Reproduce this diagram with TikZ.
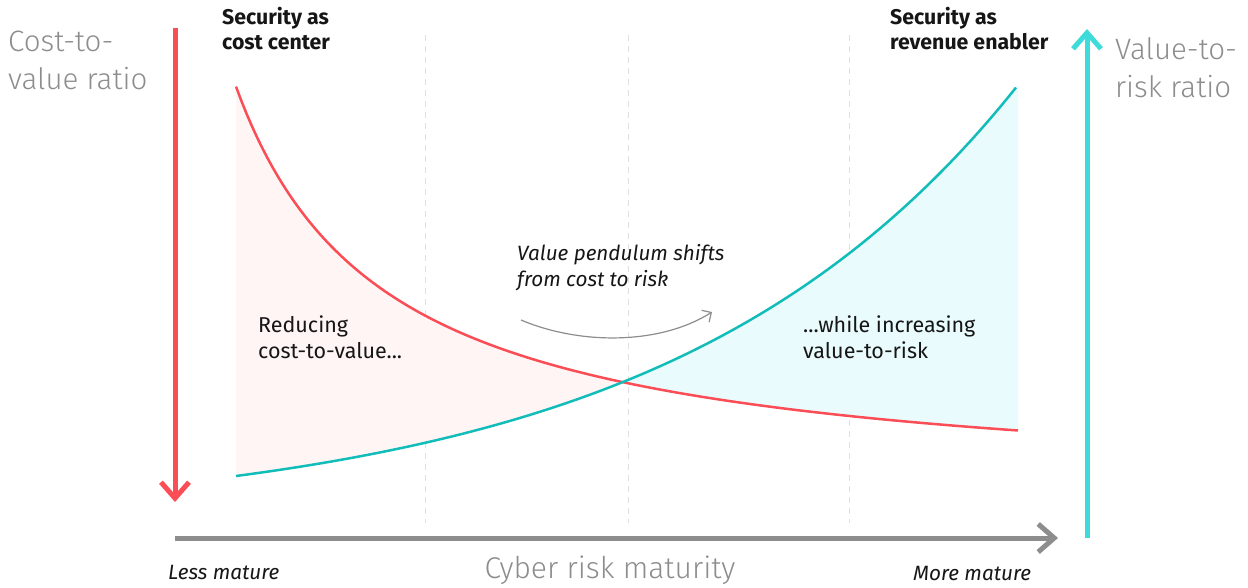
\documentclass[tikz,border=0pt]{standalone}
\usepackage{fontspec}
\setmainfont{Fira Sans}
\newfontfamily\lightfont{Fira Sans Light}
\usetikzlibrary{arrows.meta}
\definecolor{cred}{HTML}{FA4D56}
\definecolor{cteal}{HTML}{3DDBD9}
\definecolor{ctealcurve}{HTML}{12BDB9}
\definecolor{cpink}{HTML}{FFF5F5}
\definecolor{ctealfill}{HTML}{E9FBFC}
\definecolor{caxis}{HTML}{8D8D8D}
\definecolor{cdash}{HTML}{E0E0E0}
\definecolor{ctext}{HTML}{161616}
\tikzset{
  bigarrow/.style={line width=5pt, -{Straight Barb[length=16pt,width=28pt]}},
  axislabel/.style={font=\lightfont\fontsize{29.5}{38}\selectfont, text=caxis, align=left, inner sep=0pt, anchor=north west},
  headlabel/.style={font=\bfseries\fontsize{21.3}{25}\selectfont, text=ctext, align=left, inner sep=0pt, anchor=north west},
  notelabel/.style={font=\fontsize{21.5}{26}\selectfont, text=ctext, align=left, inner sep=0pt, anchor=north west},
  itlabel/.style={font=\itshape\fontsize{20.7}{26}\selectfont, text=ctext, align=left, inner sep=0pt, anchor=north west},
  gridline/.style={cdash, line width=1pt, dash pattern=on 6pt off 5pt},
  curve/.style={line width=2.5pt},
}
\begin{document}
\begin{tikzpicture}[x=1pt,y=-1pt]
\useasboundingbox (0,0) rectangle (1248,587);
% grid lines
\foreach \gx [count=\i] in {425,628,849}{
  \coordinate (gt\i) at (\gx,35);
  \coordinate (gb\i) at (\gx,523);
  \draw[gridline] (gt\i) -- (gb\i);
}
% fills
\fill[cpink] plot[domain=236:622,samples=80] (\x,{496-610/((\x-87)/100)}) -- plot[domain=622:236,samples=80] (\x,{521.8-45.8*exp(0.002887*(\x-236))}) -- cycle;
\fill[ctealfill] plot[domain=622:1018,samples=80] (\x,{521.8-45.8*exp(0.002887*(\x-236))}) -- plot[domain=1018:622,samples=80] (\x,{496-610/((\x-87)/100)}) -- cycle;
% curves
\draw[curve,cred] plot[domain=236:1018,samples=150] (\x,{496-610/((\x-87)/100)});
\draw[curve,ctealcurve] plot[domain=236:1016,samples=150] (\x,{521.8-45.8*exp(0.002887*(\x-236))});
% axes
\coordinate (rtop) at (175,28);
\coordinate (rbot) at (175,502);
\draw[bigarrow,cred] (rtop) -- (rbot);
\coordinate (tbot) at (1087,538);
\coordinate (ttop) at (1087,29);
\draw[bigarrow,cteal] (tbot) -- (ttop);
\coordinate (xl) at (175,538);
\coordinate (xr) at (1058,538);
\draw[bigarrow,caxis] (xl) -- (xr);
% pendulum arrow
\coordinate (pa) at (521,320);
\coordinate (pb) at (712,312);
\draw[caxis, line width=1.2pt, -{Straight Barb[length=7pt,width=14pt]}] (pa) .. controls (580,345) and (660,345) .. (pb);
% labels
\node[axislabel] (lcost) at (8,31) {Cost-to-\\value ratio};
\node[axislabel] (lvalue) at (1115,37) {Value-to-\\risk ratio};
\node[headlabel] (hcost) at (222,7) {Security as\\cost center};
\node[headlabel] (hrev) at (890,7) {Security as\\revenue enabler};
\node[itlabel] (pend) at (517,244) {Value pendulum shifts\\from cost to risk};
\node[notelabel] (reduce) at (258,316) {Reducing\\cost-to-value...};
\node[notelabel] (incr) at (803,316) {...while increasing\\value-to-risk};
\node[font=\lightfont\fontsize{30}{36}\selectfont, text=caxis, inner sep=0pt, anchor=base] (xlab) at (610,578) {Cyber risk maturity};
\node[font=\itshape\fontsize{20.7}{24}\selectfont, text=ctext, inner sep=0pt, anchor=base west] (less) at (168,579) {Less mature};
\node[font=\itshape\fontsize{20.7}{24}\selectfont, text=ctext, inner sep=0pt, anchor=base west] (more) at (913,580) {More mature};
\end{tikzpicture}
\end{document}
